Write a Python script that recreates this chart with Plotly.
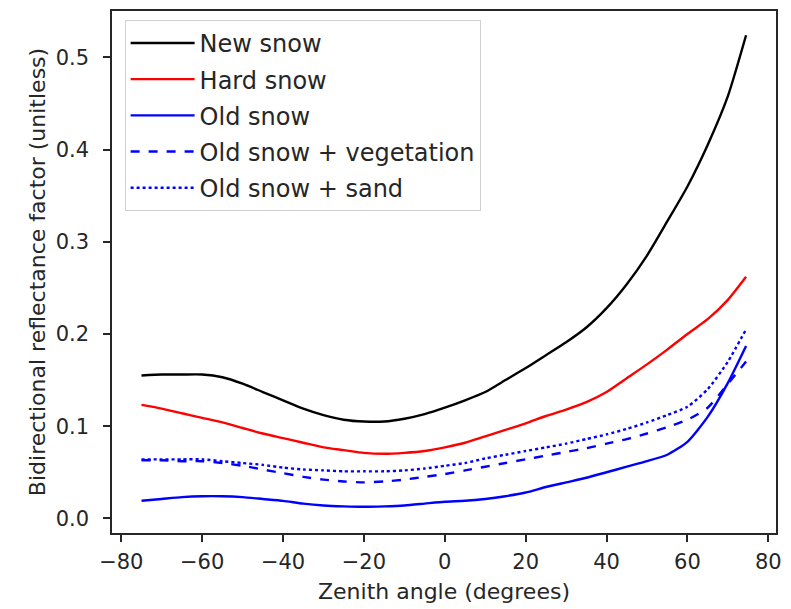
import plotly.graph_objects as go

angles = [-75, -70, -65, -60, -55, -50, -45, -40, -35, -30, -25, -20, -15, -10, -5,
          0, 5, 10, 15, 20, 25, 30, 35, 40, 45, 50, 55, 60, 65, 70, 74.5]

new_snow = [0.155, 0.156, 0.156, 0.156, 0.153, 0.146, 0.137, 0.128, 0.119, 0.112, 0.107, 0.105, 0.105, 0.108, 0.113,
            0.120, 0.128, 0.137, 0.150, 0.163, 0.177, 0.191, 0.207, 0.228, 0.254, 0.285, 0.322, 0.360, 0.405, 0.458, 0.524]
hard_snow = [0.123, 0.119, 0.114, 0.109, 0.104, 0.098, 0.092, 0.087, 0.082, 0.077, 0.074, 0.071, 0.070, 0.071, 0.073,
             0.077, 0.082, 0.089, 0.096, 0.103, 0.111, 0.118, 0.126, 0.137, 0.152, 0.167, 0.183, 0.200, 0.216, 0.237, 0.262]
old_snow = [0.019, 0.021, 0.023, 0.024, 0.024, 0.023, 0.021, 0.019, 0.016, 0.014, 0.013, 0.0125, 0.013, 0.014, 0.016,
            0.018, 0.019, 0.021, 0.024, 0.028, 0.034, 0.039, 0.044, 0.050, 0.056, 0.062, 0.069, 0.083, 0.110, 0.147, 0.187]
old_snow_veg = [0.063, 0.063, 0.062, 0.062, 0.060, 0.057, 0.053, 0.049, 0.045, 0.042, 0.040, 0.039, 0.040, 0.042, 0.045,
                0.048, 0.052, 0.056, 0.060, 0.064, 0.068, 0.072, 0.076, 0.081, 0.086, 0.092, 0.099, 0.107, 0.120, 0.146, 0.170]
old_snow_sand = [0.064, 0.064, 0.064, 0.064, 0.062, 0.060, 0.058, 0.055, 0.053, 0.052, 0.051, 0.051, 0.051, 0.052, 0.054,
                 0.057, 0.060, 0.065, 0.069, 0.073, 0.077, 0.081, 0.086, 0.091, 0.097, 0.104, 0.112, 0.121, 0.140, 0.170, 0.205]

x_ticks = [-80, -60, -40, -20, 0, 20, 40, 60, 80]
y_ticks = [0.0, 0.1, 0.2, 0.3, 0.4, 0.5]
y_tick_labels = ["0.0", "0.1", "0.2", "0.3", "0.4", "0.5"]

series = [
    ("New snow", new_snow, "#000000", "solid"),
    ("Hard snow", hard_snow, "#ff0000", "solid"),
    ("Old snow", old_snow, "#0000ff", "solid"),
    ("Old snow + vegetation", old_snow_veg, "#0000ff", "dash"),
    ("Old snow + sand", old_snow_sand, "#0000ff", "dot"),
]

fig = go.Figure()
for i, (name, vals, color, dash) in enumerate(series):
    fig.add_trace(go.Scatter(x=angles, y=vals, mode="lines", name=name, legendgroup=f"g{i}",
                             line=dict(color=color, width=2.4, dash=dash, shape="spline", smoothing=0.6)))

font = "DejaVu Sans"
txt = "#262626"
fig.update_layout(
    width=791, height=609,
    margin=dict(l=112, r=9, t=9, b=76),
    paper_bgcolor="white", plot_bgcolor="white",
    font=dict(family=font, size=21, color=txt),
    showlegend=True,
    legend=dict(x=0.019, y=0.983, xanchor="left", yanchor="top", traceorder="grouped",
                bgcolor="rgba(255,255,255,0.9)", bordercolor="#d0d0d0", borderwidth=1,
                font=dict(family=font, size=24, color=txt),
                itemwidth=64, tracegroupgap=2),
    xaxis=dict(range=[-82.3, 81.9], tickvals=x_ticks, ticks="outside", ticklen=7, tickwidth=1.5,
               tickcolor=txt, showline=True, linecolor=txt, linewidth=1.5, mirror=True,
               showgrid=False, zeroline=False, ticklabelstandoff=2,
               title=dict(text="Zenith angle (degrees)", font=dict(size=22), standoff=11)),
    yaxis=dict(range=[-0.0159, 0.5503], tickvals=y_ticks, ticktext=y_tick_labels, ticks="outside", ticklen=7,
               tickwidth=1.5, tickcolor=txt, showline=True, linecolor=txt, linewidth=1.5,
               mirror=True, showgrid=False, zeroline=False, ticklabelstandoff=10,
               title=dict(text="Bidirectional reflectance factor (unitless)", font=dict(size=22), standoff=4)),
)

fig.write_html("out.html")
